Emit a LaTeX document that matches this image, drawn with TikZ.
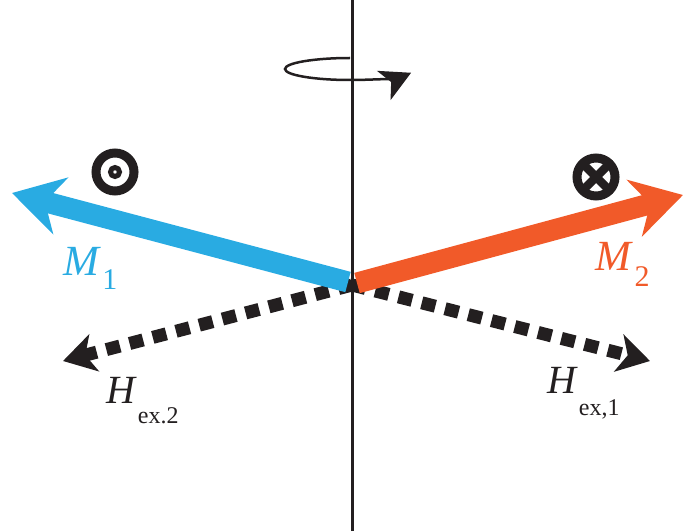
\documentclass[tikz,border=0pt]{standalone}
\usepackage{fontspec}
\setmainfont{Liberation Serif}
\usetikzlibrary{arrows.meta,calc}

\definecolor{mblue}{RGB}{41,171,226}
\definecolor{morange}{RGB}{241,90,41}
\definecolor{ink}{RGB}{35,31,32}

\begin{document}
\begin{tikzpicture}[
  x=1pt,y=1pt,
  mvec/.style={line width=21pt,
    -{Stealth[length=50pt,width=58pt,inset=16pt]}},
  hvec/.style={ink,line width=13pt,dash pattern=on 14pt off 10pt,
    -{Stealth[length=32pt,width=38pt,inset=9pt]}},
  mlabel/.style={inner sep=0pt,anchor=base west,
    font=\fontsize{43}{43}\selectfont},
  hlabel/.style={ink,inner sep=0pt,anchor=base west,
    font=\fontsize{40}{40}\selectfont},
  ring/.style={ink,line width=9pt}
]
\useasboundingbox (0,0) rectangle (684,531);
\coordinate (top) at (352,531);
\coordinate (bottom) at (352,0);
\coordinate (centre) at (352,246);
\coordinate (m1end) at (348,249);
\coordinate (m2end) at (357,248);
\coordinate (m1tip) at (12,338);
\coordinate (m2tip) at (683,336);
\coordinate (h2tip) at (63,170);
\coordinate (h1tip) at (650,170);
% exchange fields
\draw[hvec] (centre) -- (h2tip);
\draw[hvec] (centre) -- (h1tip);
% sublattice moments
\draw[mvec,mblue] (m1end) -- (m1tip);
\draw[mvec,morange] (m2end) -- (m2tip);
% rotation axis
\draw[ink,line width=3pt] (bottom) -- (top);
\draw[ink,line width=2.5pt,-{Stealth[length=30pt,width=32pt,inset=8pt]}]
  (350,473) arc[start angle=90,end angle=340,x radius=65,y radius=11];
% out of / into the plane
\node[circle,inner sep=0pt,minimum size=1pt] (outof) at (115,359) {};
\draw[ring] (outof) circle[radius=19];
\draw[ink,line width=5pt] (outof) circle[radius=4.5];
\node[circle,inner sep=0pt,minimum size=1pt] (into) at (596,354) {};
\draw[ink,line width=8.5pt] ($(into)+(-12,-12)$) -- ($(into)+(12,12)$);
\draw[ink,line width=8.5pt] ($(into)+(-12,12)$) -- ($(into)+(12,-12)$);
\draw[ring] (into) circle[radius=19];
% labels
\node[mlabel,text=mblue] (m1) at (63,256)
  {\textit{M}\kern1.5pt\raisebox{-14pt}{\fontsize{30}{30}\selectfont 1}};
\node[mlabel,text=morange] (m2) at (595,261)
  {\textit{M}\kern1.5pt\raisebox{-16pt}{\fontsize{30}{30}\selectfont 2}};
\node[hlabel] (h2) at (106,128)
  {\textit{H}\kern1pt\raisebox{-20pt}{\fontsize{24}{24}\selectfont ex.2}};
\node[hlabel] (h1) at (547,138)
  {\textit{H}\kern1pt\raisebox{-22pt}{\fontsize{24}{24}\selectfont ex,1}};
\end{tikzpicture}
\end{document}
